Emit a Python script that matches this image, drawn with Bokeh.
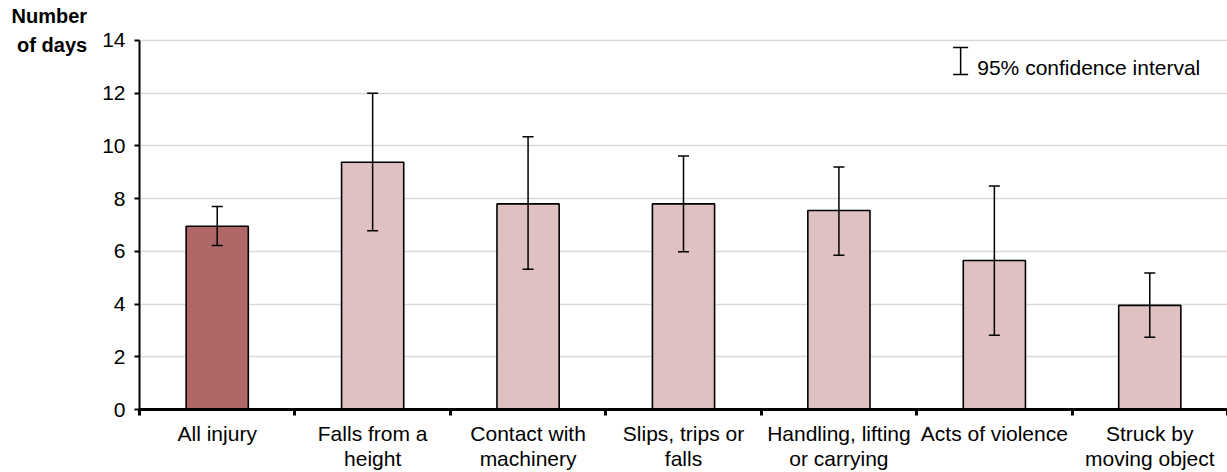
import numpy as np
from bokeh.plotting import figure
from bokeh.models import (ColumnDataSource, Whisker, TeeHead, FixedTicker, Label, Range1d)
from bokeh.embed import file_html
from bokeh.resources import INLINE

categories = ["All injury", "Falls from a\nheight", "Contact with\nmachinery", "Slips, trips or\nfalls",
              "Handling, lifting\nor carrying", "Acts of violence", "Struck by\nmoving object"]
values = [6.95, 9.38, 7.80, 7.80, 7.55, 5.65, 3.95]
lower = [6.22, 6.78, 5.32, 5.98, 5.85, 2.82, 2.74]
upper = [7.70, 12.00, 10.35, 9.62, 9.20, 8.48, 5.18]
colors = ["#B06767"] + ["#E0C1C2"] * 6
y_ticks = [0, 2, 4, 6, 8, 10, 12, 14]

FONT = "Liberation Sans"
FS = "21px"

n = len(categories)
xs = np.arange(n) + 0.5
src = ColumnDataSource(dict(x=xs, top=values, lower=lower, upper=upper, color=colors))

YMAX = 14
TOP_BORDER = 30
y_top = YMAX * (410 - TOP_BORDER) / 370  # frame a bit taller than the axis; axis stops at 14

p = figure(width=1227, height=472, output_backend="svg", toolbar_location=None,
           x_range=Range1d(0, n), y_range=Range1d(0, y_top),
           min_border_left=139, min_border_right=0, min_border_top=TOP_BORDER, min_border_bottom=62)
p.outline_line_color = None

p.vbar(x="x", top="top", width=0.4, bottom=0, source=src, fill_color="color",
       line_color="black", line_width=1.6)

w = Whisker(base="x", upper="upper", lower="lower", source=src, line_width=1.5, line_color="black",
            level="overlay",
            upper_head=TeeHead(size=11, line_width=1.5, line_color="black"),
            lower_head=TeeHead(size=11, line_width=1.5, line_color="black"))
p.add_layout(w)

# legend icon and text
leg_src = ColumnDataSource(dict(x=[5.283], lower=[12.71], upper=[13.73]))
lw = Whisker(base="x", upper="upper", lower="lower", source=leg_src, line_width=1.5, line_color="black",
             level="overlay",
             upper_head=TeeHead(size=15, line_width=1.5, line_color="black"),
             lower_head=TeeHead(size=15, line_width=1.5, line_color="black"))
p.add_layout(lw)
p.add_layout(Label(x=5.39, y=12.97, text="95% confidence interval", text_font=FONT,
                   text_font_size=FS, text_baseline="middle", text_align="left", text_color="black"))

# axes
p.xgrid.grid_line_color = None
p.ygrid.grid_line_color = "#D9D9D9"
p.ygrid.grid_line_width = 1.5
p.yaxis.bounds = (0, YMAX)
p.yaxis.ticker = FixedTicker(ticks=y_ticks, minor_ticks=[])
p.yaxis.axis_line_width = 2
p.yaxis.axis_line_color = "black"
p.yaxis.major_tick_out = 5
p.yaxis.major_tick_in = 0
p.yaxis.major_tick_line_width = 2
p.yaxis.minor_tick_line_color = None
p.yaxis.major_label_text_font = FONT
p.yaxis.major_label_text_font_size = FS
p.yaxis.major_label_text_color = "black"
p.yaxis.major_label_standoff = 9
p.yaxis.axis_label = "Number\nof days"
p.yaxis.axis_label_orientation = "horizontal"
p.yaxis.axis_label_align = "end"
p.yaxis.axis_label_text_font = FONT
p.yaxis.axis_label_text_font_size = "20px"
p.yaxis.axis_label_text_font_style = "bold"
p.yaxis.axis_label_text_color = "black"
p.yaxis.axis_label_standoff = 12
p.yaxis.axis_label_text_line_height = 1.35

p.xaxis.ticker = FixedTicker(ticks=list(xs), minor_ticks=list(range(n + 1)))
p.xaxis.major_label_overrides = {float(x): c for x, c in zip(xs, categories)}
p.xaxis.axis_line_width = 3
p.xaxis.axis_line_color = "black"
p.xaxis.major_tick_line_color = None
p.xaxis.minor_tick_out = 6
p.xaxis.minor_tick_in = 0
p.xaxis.minor_tick_line_width = 3
p.xaxis.minor_tick_line_color = "black"
p.xaxis.major_label_text_font = FONT
p.xaxis.major_label_text_font_size = FS
p.xaxis.major_label_text_color = "black"
p.xaxis.major_label_text_line_height = 1.1
p.xaxis.major_label_standoff = 6

open("out.html", "w").write(file_html(p, INLINE))
